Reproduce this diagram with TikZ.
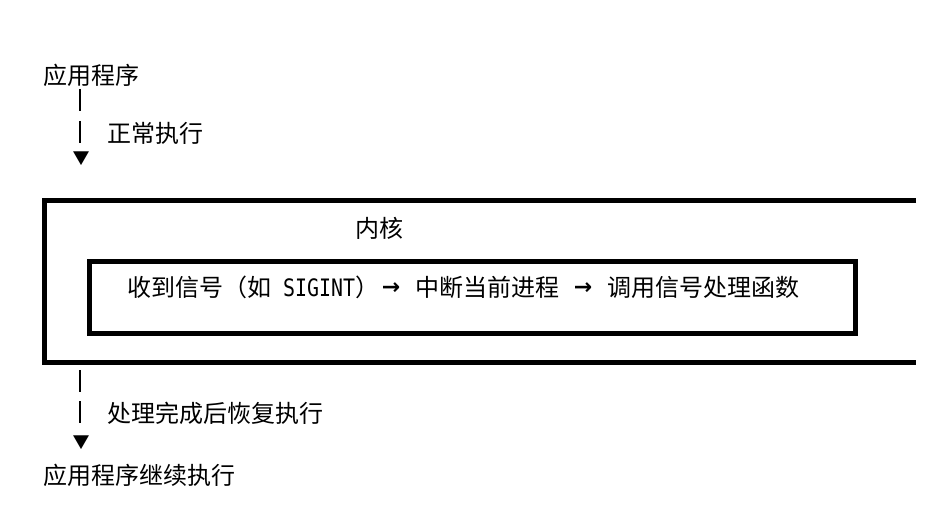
\documentclass[tikz,border=0pt]{standalone}
\usepackage{fontspec}
\setmainfont{Noto Sans CJK SC}
\newfontfamily\latinmono{DejaVu Sans Mono}
\newfontfamily\arrowfont{DejaVu Sans}
\usetikzlibrary{positioning}
\newcommand{\fwarrow}{\makebox[24pt][c]{\raisebox{1.5pt}{\arrowfont\bfseries\fontsize{22}{24}\selectfont →}}}
\newcommand{\hwspace}{\hspace{12pt}}
\newcommand{\hwtext}[1]{\scalebox{0.83}[1]{\latinmono #1}}

\begin{document}
\begin{tikzpicture}[x=1pt,y=-1pt]
\tikzset{lbl/.style={anchor=west,inner sep=0pt,font=\fontsize{24}{26}\selectfont},
  tri/.style={inner sep=0pt,font=\fontsize{17}{18}\selectfont},
  bar/.style={line width=2pt},
  frame/.style={line width=5pt}}
\useasboundingbox (0,0) rectangle (926,516);
% top part
\node[lbl] (app) at (43,75) {应用程序};
\node[lbl] (run) at (107,133) {正常执行};
\node[tri] (downA) at (81,159) {▼};
\coordinate (barA1) at (80,89);
\coordinate (barA2) at (80,111);
\coordinate (barA3) at (80,121);
\coordinate (barA4) at (80,143);
\draw[bar] (barA1) -- (barA2);
\draw[bar] (barA3) -- (barA4);
% kernel
\coordinate (ktr) at (916,200);
\coordinate (ktl) at (44,200);
\coordinate (kbl) at (44,362);
\coordinate (kbr) at (916,362);
\draw[frame] (ktr) -- (ktl) -- (kbl) -- (kbr);
\node[lbl] (kernel) at (355,228) {内核};
\node[draw,frame,inner sep=0pt,minimum width=766pt,minimum height=72pt] (handler) at (472,297) {};
\node[lbl] (steps) at (127,287) {收到信号（如\hwspace\hwtext{SIGINT}）\fwarrow\hwspace 中断当前进程\hwspace\fwarrow\hwspace 调用信号处理函数};
% bottom part
\coordinate (barB1) at (80,370);
\coordinate (barB2) at (80,392);
\coordinate (barB3) at (80,401);
\coordinate (barB4) at (80,423);
\draw[bar] (barB1) -- (barB2);
\draw[bar] (barB3) -- (barB4);
\node[lbl] (done) at (107,413) {处理完成后恢复执行};
\node[tri] (downB) at (81,443) {▼};
\node[lbl] (cont) at (43,475) {应用程序继续执行};
\end{tikzpicture}
\end{document}
